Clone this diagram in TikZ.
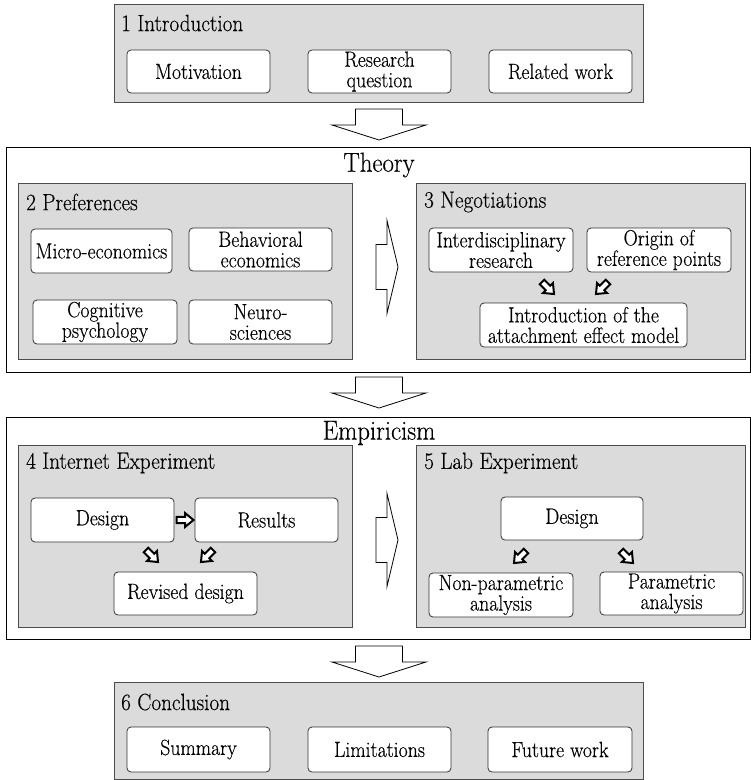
\documentclass[tikz,border=0pt]{standalone}
\usepackage{fontspec}
\setmainfont{Latin Modern Roman}[FakeStretch=0.9,FakeBold=0.3]
\newcommand{\bx}[7]{\node[#2, minimum width={(#5-#3)*1pt}, minimum height={(#6-#4)*1pt}] (#1) at ({(#3+#5)/2},{(#4+#6)/2}) {#7};}
\begin{document}
\begin{tikzpicture}[x=1pt,y=-1pt,
  inbox/.style={draw=black!80, fill=white, rounded corners=4pt, line width=0.8pt, align=center, font=\fontsize{22}{20.5}\selectfont, inner sep=0pt},
  section/.style={draw=black!70, fill=black!14, line width=1pt, inner sep=0pt},
  group/.style={draw=black, fill=white, line width=1pt, inner sep=0pt},
  ttl/.style={anchor=west, font=\fontsize{23.5}{24}\selectfont, inner sep=0pt},
  bigttl/.style={font=\fontsize{27.5}{28}\selectfont, inner sep=0pt},
  blockarrow/.style={draw=black, fill=white, line width=0.8pt, line join=miter},
  smallarrow/.style={draw=black, fill=white, line width=2pt, line join=miter},
  downarr/.pic={\draw[blockarrow] (-23.5,0) -- (23.5,0) -- (23.5,16) -- (47,16) -- (0,31) -- (-47,16) -- (-23.5,16) -- cycle;},
  rightarr/.pic={\draw[blockarrow] (0,-22.5) -- (11,-22.5) -- (11,-46.5) -- (22,0) -- (11,46.5) -- (11,22.5) -- (0,22.5) -- cycle;},
  smallarr/.pic={\draw[smallarrow] (-8.5,-3.2) -- (0,-3.2) -- (0,-7) -- (8.5,0) -- (0,7) -- (0,3.2) -- (-8.5,3.2) -- cycle;}
]
\useasboundingbox (0,0) rectangle (751,780);

% ---------- Introduction ----------
\bx{intro}{section}{114}{4}{643}{102}{}
\node[ttl] (introt) at (121,23) {1 Introduction};
\bx{motiv}{inbox}{127}{50}{270}{93}{Motivation}
\bx{resq}{inbox}{308}{50}{451}{93}{Research\\question}
\bx{relw}{inbox}{489}{50}{632}{93}{Related work}

\coordinate (a1) at (379,109);
\pic at (a1) {downarr};

% ---------- Theory ----------
\bx{theory}{group}{6}{147}{750.5}{372}{}
\node[bigttl] (theoryt) at (379,165) {Theory};

\bx{pref}{section}{18}{183}{352}{359}{}
\node[ttl] (preft) at (26,202) {2 Preferences};
\bx{micro}{inbox}{31}{229}{172}{273}{Micro-economics}
\bx{behav}{inbox}{189}{228}{332}{271}{Behavioral\\economics}
\bx{cogn}{inbox}{33}{300}{177}{344}{Cognitive\\psychology}
\bx{neuro}{inbox}{189}{300}{332}{344}{Neuro-\\sciences}

\coordinate (r1) at (376,267);
\pic at (r1) {rightarr};

\bx{nego}{section}{416}{183}{745}{359}{}
\node[ttl] (negot) at (424,202) {3 Negotiations};
\bx{inter}{inbox}{429}{228}{573}{272}{Interdisciplinary\\research}
\bx{orig}{inbox}{587}{228}{731}{272}{Origin of\\reference points}
\bx{attach}{inbox}{480}{303}{687}{347}{Introduction of the\\attachment effect model}
\coordinate (n1) at (548,288);
\coordinate (n2) at (602,288);
\pic[rotate=-45] at (n1) {smallarr};
\pic[rotate=-135] at (n2) {smallarr};

\coordinate (a2) at (379,377);
\pic at (a2) {downarr};

% ---------- Empiricism ----------
\bx{emp}{group}{6}{417}{750.5}{639}{}
\node[bigttl] (empt) at (379,433) {Empiricism};

\bx{inet}{section}{18}{445}{352}{627}{}
\node[ttl] (inett) at (26,463) {4 Internet Experiment};
\bx{idesign}{inbox}{31}{498}{174}{542}{Design}
\bx{iresult}{inbox}{195}{498}{338}{542}{Results}
\bx{irev}{inbox}{114}{572}{257}{615}{Revised design}
\coordinate (i0) at (185,520);
\pic at (i0) {smallarr};
\coordinate (i1) at (152,556);
\coordinate (i2) at (207,556);
\pic[rotate=-45] at (i1) {smallarr};
\pic[rotate=-135] at (i2) {smallarr};

\coordinate (r2) at (376,540);
\pic at (r2) {rightarr};

\bx{lab}{section}{416}{445}{745}{627}{}
\node[ttl] (labt) at (424,463) {5 Lab Experiment};
\bx{ldesign}{inbox}{501}{497}{643}{540}{Design}
\bx{lnon}{inbox}{429}{573}{573}{617}{Non-parametric\\analysis}
\bx{lpar}{inbox}{600}{572}{743}{615}{Parametric\\analysis}
\coordinate (l1) at (520,557);
\coordinate (l2) at (627,557);
\pic[rotate=-135] at (l1) {smallarr};
\pic[rotate=-45] at (l2) {smallarr};

\coordinate (a3) at (379,646);
\pic at (a3) {downarr};

% ---------- Conclusion ----------
\bx{concl}{section}{114}{682}{643}{779.5}{}
\node[ttl] (conclt) at (121,702) {6 Conclusion};
\bx{summ}{inbox}{127}{727}{270}{772}{Summary}
\bx{limit}{inbox}{308}{727}{451}{772}{Limitations}
\bx{future}{inbox}{488}{727}{632}{772}{Future work}
\end{tikzpicture}
\end{document}
